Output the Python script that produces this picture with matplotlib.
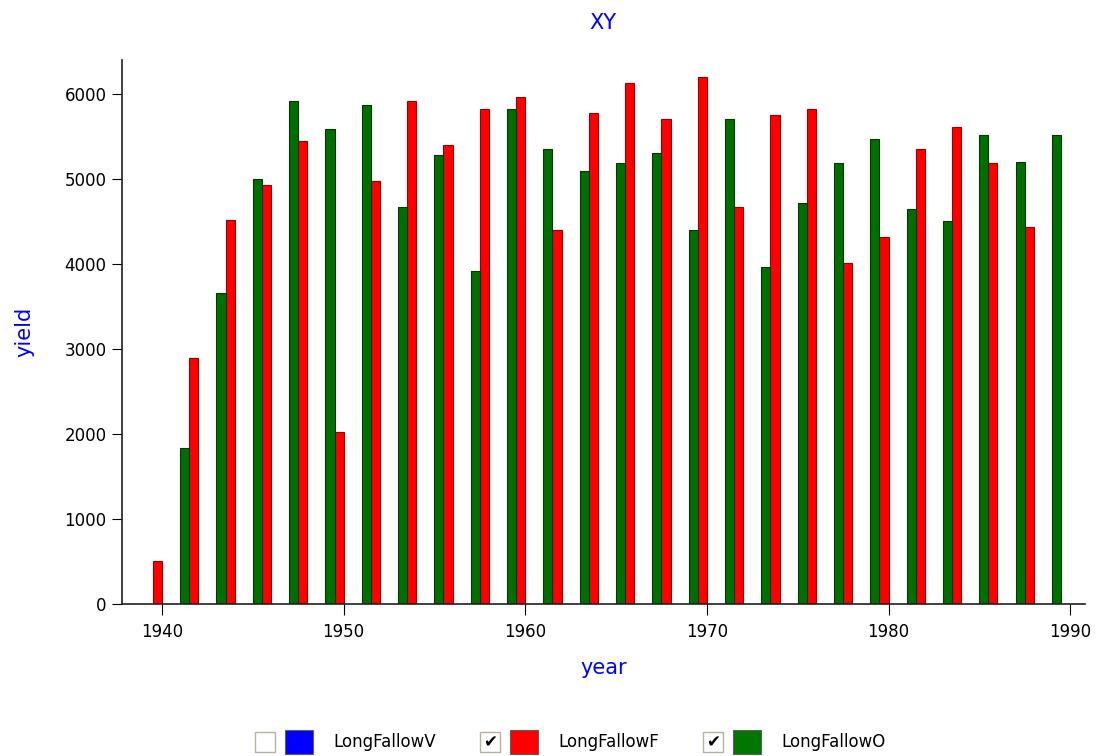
import matplotlib
matplotlib.use("Agg")
import matplotlib.pyplot as plt
from matplotlib.patches import Rectangle

_BLUE = "#0000ff"
_RED = "#ff0000"
_GREEN = "#006e00"

years_f = list(range(1940, 1990, 2))
yield_f = [510, 2895, 4520, 4927, 5443, 2027, 4973, 5913, 5397, 5816,
           5963, 4402, 5770, 6127, 5699, 6198, 4666, 5749, 5816, 4008,
           4314, 5346, 5611, 5183, 4431]

years_o = list(range(1941, 1991, 2))
yield_o = [1838, 3655, 4994, 5913, 5581, 5867, 4666, 5279, 3911, 5816,
           5346, 5090, 5187, 5300, 4402, 5699, 3961, 4713, 5183, 5464,
           4641, 4503, 5510, 5203, 5510]

series_names = ["LongFallowV", "LongFallowF", "LongFallowO"]
series_colors = [_BLUE, _RED, "#007800"]
series_checked = [False, True, True]

fig = plt.figure(figsize=(11.04, 7.56), dpi=100)
ax = fig.add_axes([0.1105, 0.201, 0.872, 0.72])

ax.bar(years_f, yield_f, width=-0.5, align="edge", color=_RED,
       edgecolor="#9a0000", linewidth=0.8)
ax.bar(years_o, yield_o, width=0.5, align="edge", color=_GREEN,
       edgecolor="#003800", linewidth=0.8)

ax.set_xlim(1937.8, 1990.8)
ax.set_ylim(0, 6400)
ax.set_xticks(range(1940, 1991, 10))
ax.set_yticks(range(0, 6001, 1000))
ax.tick_params(axis="both", labelsize=12, colors="#000000", direction="out")
ax.tick_params(axis="x", length=8, pad=6)
ax.tick_params(axis="y", length=7, pad=4)
for side in ("top", "right"):
    ax.spines[side].set_visible(False)
for side in ("left", "bottom"):
    ax.spines[side].set_color("#202020")
    ax.spines[side].set_linewidth(1.2)

ax.set_title("XY", fontsize=15, color=_BLUE, pad=22)
ax.set_xlabel("year", fontsize=15, color=_BLUE, labelpad=12)
ax.set_ylabel("yield", fontsize=15, color=_BLUE, labelpad=22)

# legend with checkboxes along the bottom
box_w, box_h = 20 / 1104, 20 / 756
sq_w, sq_h = 28 / 1104, 24 / 756
y0 = 1 - 752 / 756
starts = [255, 480, 703]
for x_px, name, col, checked in zip(starts, series_names, series_colors, series_checked):
    x0 = x_px / 1104
    fig.patches.append(Rectangle((x0, y0), box_w, box_h, transform=fig.transFigure,
                                 facecolor="white", edgecolor="#b8b0a0", linewidth=1))
    if checked:
        fig.text(x0 + box_w / 2, y0 + box_h / 2 - 0.001, "\u2714", ha="center", va="center",
                 fontsize=12, color="black")
    sx = x0 + 30 / 1104
    fig.patches.append(Rectangle((sx, y0 - 2 / 756), sq_w, sq_h, transform=fig.transFigure,
                                 facecolor=col, edgecolor="#606060", linewidth=0.8))
    fig.text(sx + 48 / 1104, y0 + box_h / 2, name, ha="left", va="center",
             fontsize=12, color="black")

fig.savefig("out.png", dpi=100)
